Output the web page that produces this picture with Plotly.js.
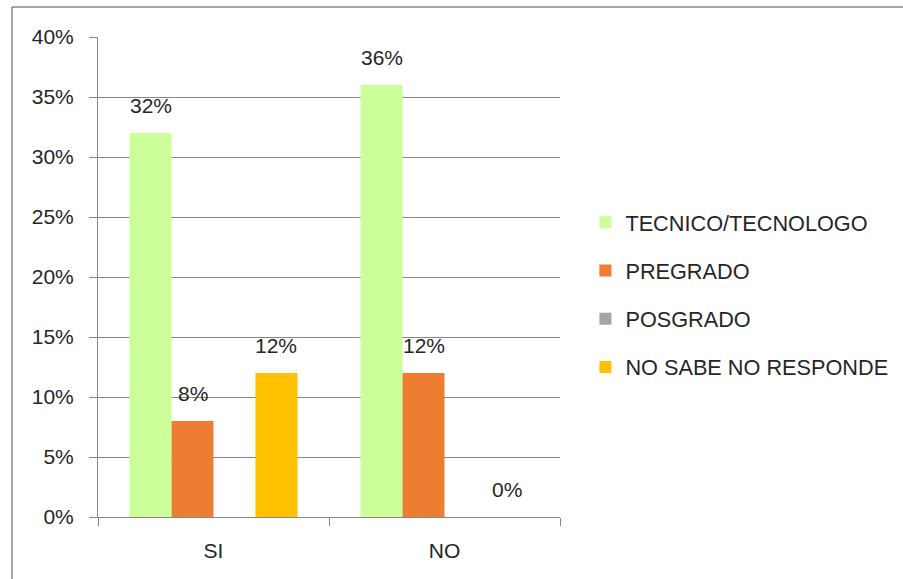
<!DOCTYPE html>
<html>
<head>
<meta charset="utf-8">
<script src="https://cdn.plot.ly/plotly-3.0.1.min.js"></script>
<style>html,body{margin:0;padding:0;background:#fff;}#chart{width:903px;height:579px;}</style>
</head>
<body>
<div id="chart"></div>
<script>
// ---- data ----
const categories = ["SI", "NO"];
const seriesNames = ["TECNICO/TECNOLOGO", "PREGRADO", "POSGRADO", "NO SABE NO RESPONDE"];
const tecnico = [32, 36];
const pregrado = [8, 12];
const posgrado = [null, null];
const noSabe = [12, 0];
const yTickVals = [0, 5, 10, 15, 20, 25, 30, 35, 40];
const yTickText = ["0%", "5%", "10%", "15%", "20%", "25%", "30%", "35%", "40%"];

// ---- styles ----
const colors = ["#CCFF99", "#ED7D31", "#A5A5A5", "#FFC000"];
const FONT = "Liberation Sans, Arial, sans-serif";
const W = 903, H = 579;
const margin = {l: 98, r: 343, t: 37, b: 62, autoexpand: false};
const bargap = 0.273;

const values = [tecnico, pregrado, posgrado, noSabe];
const traces = values.map((v, i) => ({
  type: "bar",
  name: seriesNames[i],
  x: categories,
  y: v,
  marker: {color: colors[i]},
  legendgroup: "g" + i,
  hoverinfo: "skip"
}));

// label positions derived from layout geometry
const plotW = W - margin.l - margin.r;
const catW = plotW / categories.length;
const barW = catW * (1 - bargap) / values.length;
const annotations = [];
values.forEach((v, i) => {
  v.forEach((val, j) => {
    if (val === null) return;
    annotations.push({
      x: categories[j], y: val, xref: "x", yref: "y",
      text: val + "%", showarrow: false,
      xshift: (i - (values.length - 1) / 2) * barW,
      yshift: 28, yanchor: "middle", xanchor: "center",
      font: {family: FONT, size: 21, color: "#262626"}
    });
  });
});

const layout = {
  width: W, height: H,
  margin: margin,
  paper_bgcolor: "#fff", plot_bgcolor: "#fff",
  barmode: "group", bargap: bargap, bargroupgap: 0,
  font: {family: FONT, size: 21, color: "#262626"},
  showlegend: true,
  legend: {
    x: 1.055, xanchor: "left", y: 0.463, yanchor: "middle",
    font: {family: FONT, size: 21.7, color: "#262626"},
    tracegroupgap: 17, traceorder: "grouped",
    bgcolor: "rgba(0,0,0,0)"
  },
  xaxis: {
    type: "category", showgrid: false, showline: true, linecolor: "#868686", linewidth: 1,
    ticks: "outside", tickson: "boundaries", ticklen: 8, tickcolor: "#868686",
    ticklabelstandoff: 15, zeroline: false, fixedrange: true
  },
  yaxis: {
    range: [0, 40], tickvals: yTickVals, ticktext: yTickText,
    showgrid: true, gridcolor: "#868686", gridwidth: 1,
    showline: true, linecolor: "#868686", linewidth: 1,
    ticks: "outside", ticklen: 8, tickcolor: "#868686",
    ticklabelstandoff: 11, zeroline: false, fixedrange: true
  },
  annotations: annotations,
  shapes: [
    {type: "line", xref: "paper", yref: "paper",
     x0: (12 - margin.l) / plotW, x1: (903 - margin.l) / plotW,
     y0: (H - margin.b - 7) / (H - margin.t - margin.b), y1: (H - margin.b - 7) / (H - margin.t - margin.b),
     line: {color: "#868686", width: 1.5}},
    {type: "line", xref: "paper", yref: "paper",
     x0: (12 - margin.l) / plotW, x1: (12 - margin.l) / plotW,
     y0: (H - margin.b - 7) / (H - margin.t - margin.b), y1: (H - margin.b - 579) / (H - margin.t - margin.b),
     line: {color: "#868686", width: 1.5}}
  ]
};

Plotly.newPlot("chart", traces, layout, {displayModeBar: false, staticPlot: true});
</script>
</body>
</html>
